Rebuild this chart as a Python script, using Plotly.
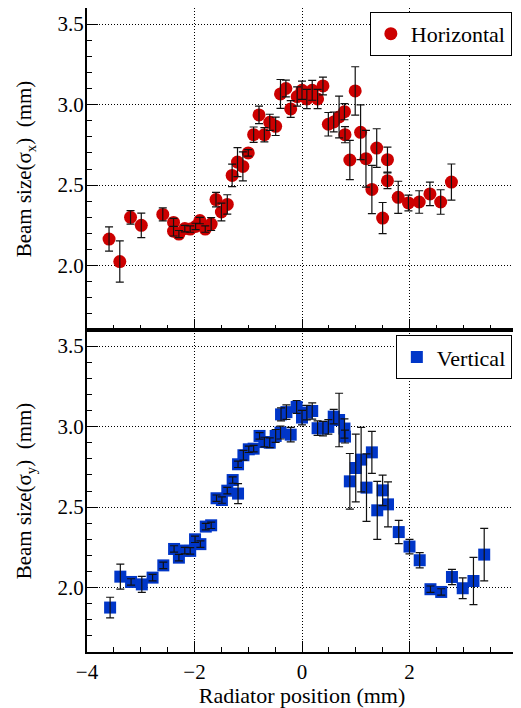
import plotly.graph_objects as go

# ---- data: Horizontal (sigma_x) ----
hx = [-3.59, -3.39, -3.19, -2.99, -2.59, -2.39, -2.39, -2.29, -2.18, -2.08,
      -1.98, -1.90, -1.80, -1.69, -1.60, -1.50, -1.39, -1.30, -1.20, -1.10,
      -1.00, -0.90, -0.80, -0.70, -0.60, -0.49, -0.40, -0.30, -0.21, -0.09,
      0.00, 0.09, 0.19, 0.29, 0.39, 0.49, 0.59, 0.69, 0.79, 0.80,
      0.89, 0.99, 1.09, 1.19, 1.30, 1.39, 1.50, 1.59, 1.59, 1.79,
      1.98, 2.18, 2.38, 2.58, 2.78]
hy = [2.165, 2.025, 2.300, 2.250, 2.318, 2.268, 2.214, 2.196, 2.230, 2.227,
      2.243, 2.280, 2.227, 2.258, 2.410, 2.333, 2.380, 2.560, 2.643, 2.616,
      2.700, 2.813, 2.936, 2.813, 2.890, 2.865, 3.066, 3.100, 2.973, 3.050,
      3.089, 3.035, 3.089, 3.035, 3.116, 2.878, 2.892, 2.923, 2.956, 2.813,
      2.656, 3.085, 2.828, 2.664, 2.473, 2.730, 2.295, 2.658, 2.527, 2.424,
      2.389, 2.395, 2.445, 2.395, 2.519]
he = [0.075, 0.128, 0.042, 0.076, 0.040, 0.025, 0.030, 0.022, 0.020, 0.020,
      0.020, 0.020, 0.020, 0.040, 0.045, 0.055, 0.060, 0.070, 0.090, 0.090,
      0.020, 0.048, 0.054, 0.044, 0.050, 0.057, 0.090, 0.052, 0.052, 0.060,
      0.057, 0.060, 0.062, 0.060, 0.055, 0.073, 0.062, 0.130, 0.050, 0.050,
      0.122, 0.150, 0.170, 0.176, 0.150, 0.120, 0.097, 0.078, 0.049, 0.100,
      0.049, 0.070, 0.073, 0.076, 0.112]

# ---- data: Vertical (sigma_y) ----
vx = [-3.57, -3.38, -3.18, -2.98, -2.78, -2.58, -2.38, -2.29, -2.18, -2.08,
      -1.99, -1.89, -1.79, -1.69, -1.59, -1.49, -1.39, -1.29, -1.19, -1.19,
      -1.09, -0.99, -0.90, -0.79, -0.70, -0.60, -0.49, -0.40, -0.39, -0.29,
      -0.21, -0.10, 0.00, 0.09, 0.19, 0.29, 0.39, 0.49, 0.59, 0.69,
      0.79, 0.80, 0.89, 1.00, 1.10, 1.20, 1.30, 1.40, 1.50, 1.60,
      1.80, 2.00, 2.19, 2.39, 2.59, 2.79, 2.99, 3.19, 3.39]
vy = [1.876, 2.068, 2.035, 2.020, 2.062, 2.138, 2.240, 2.186, 2.230, 2.228,
      2.300, 2.270, 2.379, 2.387, 2.555, 2.544, 2.602, 2.668, 2.584, 2.766,
      2.822, 2.859, 2.863, 2.942, 2.904, 2.900, 2.942, 2.963, 3.076, 3.090,
      2.950, 3.122, 3.056, 3.087, 3.097, 2.990, 2.988, 2.998, 3.062, 3.041,
      2.988, 2.938, 2.660, 2.743, 2.795, 2.621, 2.840, 2.480, 2.604, 2.517,
      2.345, 2.255, 2.170, 1.990, 1.973, 2.066, 1.996, 2.041, 2.205]
ve = [0.064, 0.078, 0.020, 0.050, 0.020, 0.020, 0.020, 0.020, 0.020, 0.020,
      0.020, 0.020, 0.020, 0.020, 0.020, 0.020, 0.020, 0.020, 0.062, 0.020,
      0.030, 0.020, 0.020, 0.020, 0.030, 0.030, 0.040, 0.040, 0.040, 0.045,
      0.045, 0.040, 0.045, 0.045, 0.050, 0.045, 0.045, 0.045, 0.045, 0.166,
      0.060, 0.040, 0.173, 0.210, 0.200, 0.210, 0.130, 0.180, 0.095, 0.140,
      0.072, 0.045, 0.047, 0.020, 0.020, 0.047, 0.065, 0.147, 0.163]

xticks = [-4, -2, 0, 2, 4]
yticks = [2.0, 2.5, 3.0, 3.5]

FONT = "Times New Roman, Liberation Serif, serif"
RED = "#cc0000"
BLUE = "#0036c8"

fig = go.Figure()

def add_series(x, y, e, name, color, symbol, size, xa, ya, legend):
    fig.add_trace(go.Scatter(
        x=x, y=y, mode="markers", name=name, xaxis=xa, yaxis=ya,
        legend=legend,
        marker=dict(color=color, symbol=symbol, size=size, line=dict(width=0)),
    ))
    fig.add_trace(go.Scatter(
        x=x, y=y, mode="markers", showlegend=False, xaxis=xa, yaxis=ya,
        marker=dict(color=color, size=size, opacity=0),
        error_y=dict(type="data", array=e, visible=True, color="#111111",
                     thickness=1.2, width=4),
        hoverinfo="skip",
    ))

add_series(hx, hy, he, "Horizontal", RED, "circle", 13, "x", "y", "legend")
add_series(vx, vy, ve, "Vertical", BLUE, "square", 12, "x2", "y2", "legend2")

axis_common = dict(
    automargin=False,
    showline=True, mirror=True, linecolor="black", linewidth=2,
    ticks="inside", ticklen=11, tickwidth=1, tickcolor="black",
    showgrid=True, gridcolor="black", gridwidth=1, griddash="1px,2px",
    zeroline=False,
    tickfont=dict(family=FONT, size=21, color="black"),
)

xcommon = dict(axis_common, range=[-4, 4], tickvals=xticks,
               minor=dict(ticks="inside", ticklen=5, dtick=0.5, tick0=0,
                          tickcolor="black", showgrid=False))
ycommon = dict(axis_common, range=[1.6, 3.6], tickvals=yticks,
               tickformat=".1f", ticklabelstandoff=-3,
               minor=dict(ticks="inside", ticklen=5, dtick=0.1, tick0=0,
                          tickcolor="black", showgrid=False))

# page body has an 8px margin: figure is 513x700 so that the plot frame
# lands at the reference pixel positions
fig.update_layout(
    width=513, height=700,
    margin=dict(l=79, r=4, t=0, b=56),
    paper_bgcolor="white", plot_bgcolor="white",
    font=dict(family=FONT, size=21, color="black"),
    xaxis=dict(xcommon, anchor="y", domain=[0, 1], showticklabels=False),
    yaxis=dict(ycommon, anchor="x", domain=[0.5, 1],
               title=dict(text="Beam size(σ<sub>x</sub>)\u00a0\u00a0(mm)",
                          font=dict(family=FONT, size=21), standoff=20)),
    xaxis2=dict(xcommon, anchor="y2", domain=[0, 1], matches="x",
                title=dict(text="Radiator position (mm)",
                           font=dict(family=FONT, size=22), standoff=2)),
    yaxis2=dict(ycommon, anchor="x2", domain=[0, 0.5],
                title=dict(text="Beam size(σ<sub>y</sub>)\u00a0\u00a0(mm)",
                           font=dict(family=FONT, size=21), standoff=20)),
    legend=dict(x=0.988, y=0.994, xanchor="right", yanchor="top",
                bordercolor="black", borderwidth=1, bgcolor="white",
                font=dict(family=FONT, size=22), entrywidth=118),
    legend2=dict(x=0.988, y=0.492, xanchor="right", yanchor="top",
                 bordercolor="black", borderwidth=1, bgcolor="white",
                 font=dict(family=FONT, size=22), entrywidth=118),
)

fig.write_html("out.html")
